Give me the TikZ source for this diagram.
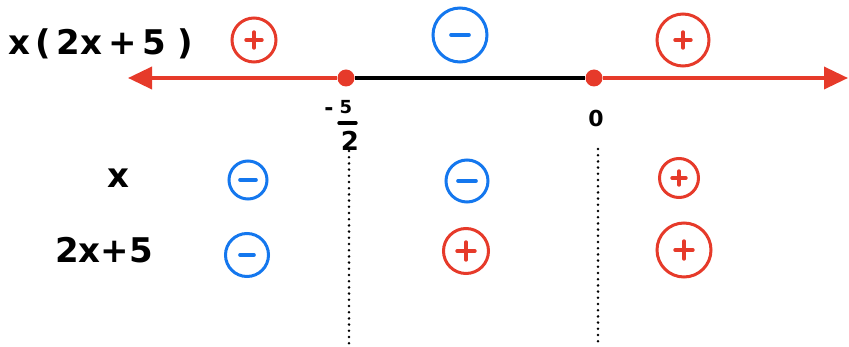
\documentclass[tikz,border=0pt]{standalone}
\usepackage{fontspec}
\setmainfont{DejaVu Sans}
\usetikzlibrary{arrows.meta}
\definecolor{signred}{HTML}{E63A2A}
\definecolor{signblue}{HTML}{1477EE}
\tikzset{
  hand/.style={font=\fontsize{34}{36}\selectfont\bfseries, inner sep=0pt},
  small hand/.style={font=\fontsize{22}{22}\selectfont\bfseries, inner sep=0pt},
  signcircle/.style={circle, draw, line width=3pt, inner sep=0pt},
  possign/.style={signcircle, draw=signred,
    path picture={\draw[signred, line width=3.4pt, line cap=round]
      (path picture bounding box.center) ++(-#1,0) -- ++(2*#1,0)
      (path picture bounding box.center) ++(0,-#1) -- ++(0,2*#1);}},
  possign/.default=8,
  negsign/.style={signcircle, draw=signblue,
    path picture={\draw[signblue, line width=3.6pt, line cap=round]
      (path picture bounding box.center) ++(-#1,0) -- ++(2*#1,0);}},
  negsign/.default=8,
  root/.style={circle, fill=signred, inner sep=0pt, minimum size=17pt},
  axisred/.style={signred, line width=3.6pt},
  guide/.style={black, line width=2.8pt, line cap=round, dash pattern=on 0pt off 6.2pt},
}
\begin{document}
\begin{tikzpicture}[x=1pt,y=-1pt]
\useasboundingbox (0,0) rectangle (849,347);

% expression label
\node[hand, anchor=west] (expr) at (8,44) {x\,(\,2x\,+\,5\,\,)};

% number line
\coordinate (lend) at (128,78);
\coordinate (rend) at (848,78);
\node[root] (r1) at (346,78) {};
\node[root] (r2) at (594,78) {};
\draw[axisred, -{Triangle[length=24pt,width=22pt]}] (r1) -- (lend);
\draw[axisred, -{Triangle[length=24pt,width=22pt]}] (r2) -- (rend);
\draw[black, line width=3.6pt] (r1) -- (r2);

% root labels
\node[small hand] (minus) at (329,112) {-};
\node[small hand, font=\fontsize{18}{18}\selectfont\bfseries] (five) at (346,107) {5};
\draw[black, line width=3.4pt, line cap=round] (339,123) -- (356,123);
\node[small hand, font=\fontsize{26}{26}\selectfont\bfseries] (two) at (350,141) {2};
\node[small hand] (zero) at (596,118) {0};

% interval signs of the product
\node[possign=8, minimum size=44pt] (p1) at (254,40) {};
\node[negsign=9, minimum size=54pt] (n1) at (460,35) {};
\node[possign=8, minimum size=52pt] (p2) at (683,40) {};

% dividing guides
\coordinate (g1a) at (349,151);
\coordinate (g1b) at (349,347);
\coordinate (g2a) at (598,149);
\coordinate (g2b) at (598,347);
\draw[guide] (g1a) -- (g1b);
\draw[guide] (g2a) -- (g2b);

% factor rows
\node[hand] (fx) at (118,178) {x};
\node[hand] (f2) at (104,250) {2x+5};

\node[negsign=8, minimum size=38pt] (a1) at (248,180) {};
\node[negsign=9, minimum size=42pt] (a2) at (467,181) {};
\node[possign=7, minimum size=39pt] (a3) at (679,178) {};

\node[negsign=7, minimum size=43pt] (b1) at (247,255) {};
\node[possign=9, minimum size=45pt] (b2) at (466,251) {};
\node[possign=9, minimum size=54pt] (b3) at (684,250) {};
\end{tikzpicture}
\end{document}
